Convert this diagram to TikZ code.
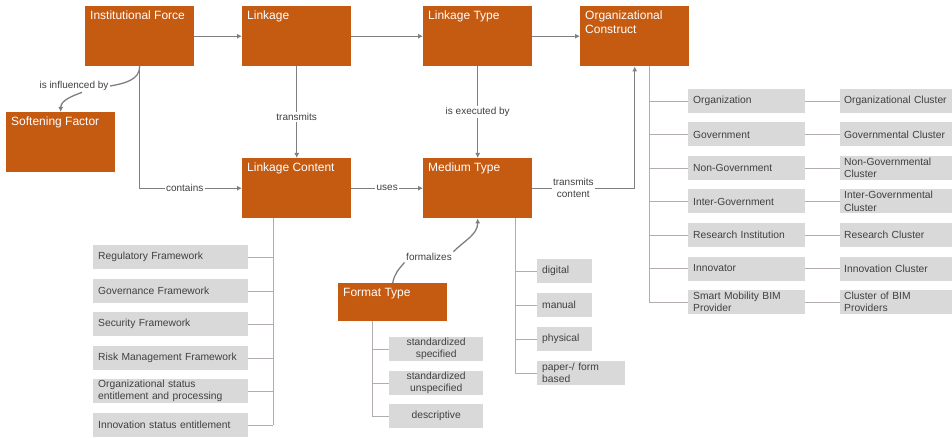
\documentclass[tikz,border=0pt]{standalone}
\usepackage{fontspec}
\setmainfont{Liberation Sans}
\usetikzlibrary{arrows.meta}
\definecolor{rust}{RGB}{197,90,17}
\definecolor{boxgrey}{RGB}{217,217,217}
\definecolor{linegrey}{RGB}{127,127,127}
\definecolor{treegrey}{RGB}{178,172,170}
\definecolor{textgrey}{RGB}{64,64,64}
\newcommand{\boxtitle}[2][50pt]{\parbox[t][#1][t]{99pt}{\raggedright #2}}
\tikzset{%
    orangebox/.style={fill=rust, text=white, anchor=north west, inner sep=5pt,
        font=\fontsize{12}{14}\selectfont},
    greybox/.style={fill=boxgrey, text=textgrey, anchor=west, minimum height=24pt,
        inner xsep=5pt, inner ysep=1pt, align=left, text width=#1,
        font=\fontsize{10.3}{12.5}\selectfont},
    greyboxc/.style={greybox=#1, align=center},
    rellabel/.style={fill=white, text=textgrey, inner sep=1.5pt,
        font=\fontsize{10}{12}\selectfont},
    linkarrow/.style={draw=linegrey, line width=1.3pt, -{Latex[length=5pt,width=5pt]}},
    treeline/.style={draw=treegrey, line width=0.9pt}
}
\begin{document}
\begin{tikzpicture}[x=1pt,y=1pt]
    \useasboundingbox (0,0) rectangle (952,-438);
    % main concepts
    \node[orangebox] (force) at (85,-6) {\boxtitle{Institutional Force}};
    \node[orangebox] (linkage) at (242,-6) {\boxtitle{Linkage}};
    \node[orangebox] (ltype) at (423,-6) {\boxtitle{Linkage Type}};
    \node[orangebox] (orgc) at (580,-6) {\boxtitle{Organizational Construct}};
    \node[orangebox] (soft) at (6,-112) {\boxtitle{Softening Factor}};
    \node[orangebox] (content) at (242,-158) {\boxtitle{Linkage Content}};
    \node[orangebox] (medium) at (423,-158) {\boxtitle{Medium Type}};
    \node[orangebox] (format) at (338,-283) {\boxtitle[28pt]{Format Type}};
    % relations
    \draw[linkarrow] (force.east) -- (linkage.west);
    \draw[linkarrow] (linkage.east) -- (ltype.west);
    \draw[linkarrow] (ltype.east) -- (orgc.west);
    \draw[linkarrow] (linkage.south) -- node[rellabel, pos=0.55] {transmits} (content.north);
    \draw[linkarrow] (ltype.south) -- node[rellabel] {is executed by} (medium.north);
    \draw[linkarrow] (force.south) |- node[rellabel, pos=0.72] {contains} (content.west);
    \draw[linkarrow] (content.east) -- node[rellabel] {uses} (medium.west);
    \draw[linkarrow] (medium.east) -| node[rellabel, pos=0.2, align=center] {transmits\\content} (orgc.south);
    \node[rellabel] (infl) at (74,-86) {is influenced by};
    \draw[linkarrow, -] (force.south) to[out=-90, in=10] (infl.east);
    \draw[linkarrow] ([xshift=8pt]infl.south) to[out=200, in=90] (soft.north);
    \node[rellabel] (frm) at (429,-257) {formalizes};
    \draw[linkarrow, -] (format.north) to[out=80, in=230] (frm.south west);
    \draw[linkarrow] (frm.north east) to[out=45, in=-90] (medium.south);
    % linkage content items
    \coordinate (lcend) at (273,-425);
    \draw[treeline] (content.south -| lcend) -- (lcend);
    \foreach \i/\y/\txt in {1/257/Regulatory Framework, 2/291/Governance Framework,
        3/324/Security Framework, 4/358/Risk Management Framework,
        5/391/{Organizational status\\entitlement and processing},
        6/425/Innovation status entitlement} {
        \node[greybox=145pt] (lc\i) at (93,-\y) {\txt};
        \draw[treeline] (lc\i.east) -- (lc\i.east -| lcend);
    }
    % medium types
    \coordinate (mtend) at (515,-373);
    \draw[treeline] (medium.south -| mtend) -- (mtend);
    \foreach \i/\y/\w/\txt in {1/271/45pt/digital, 2/305/45pt/manual,
        3/339/45pt/physical, 4/373/78pt/{paper-/ form\\based}} {
        \node[greybox=\w] (mt\i) at (537,-\y) {\txt};
        \draw[treeline] (mt\i.west) -- (mt\i.west -| mtend);
    }
    % format types
    \coordinate (ftend) at (372,-416);
    \draw[treeline] (format.south -| ftend) -- (ftend);
    \foreach \i/\y/\txt in {1/349/{standardized\\specified},
        2/383/{standardized\\unspecified}, 3/416/descriptive} {
        \node[greyboxc=84pt] (ft\i) at (389,-\y) {\txt};
        \draw[treeline] (ft\i.west) -- (ft\i.west -| ftend);
    }
    % organizational constructs and clusters
    \coordinate (ocend) at (649,-302);
    \draw[treeline] (orgc.south -| ocend) -- (ocend);
    \foreach \i/\y/\txt/\cls in {1/101/Organization/Organizational Cluster,
        2/134.5/Government/Governmental Cluster,
        3/168/Non-Government/{Non-Governmental\\Cluster},
        4/201.5/Inter-Government/{Inter-Governmental\\Cluster},
        5/235/Research Institution/Research Cluster,
        6/268.5/Innovator/Innovation Cluster,
        7/302/{Smart Mobility BIM\\Provider}/{Cluster of BIM\\Providers}} {
        \node[greybox=107pt] (oc\i) at (688,-\y) {\txt};
        \node[greybox=104pt, inner xsep=4pt] (cl\i) at (840,-\y) {\cls};
        \draw[treeline] (oc\i.west) -- (oc\i.west -| ocend);
        \draw[treeline] (oc\i.east) -- (cl\i.west);
    }
\end{tikzpicture}
\end{document}
